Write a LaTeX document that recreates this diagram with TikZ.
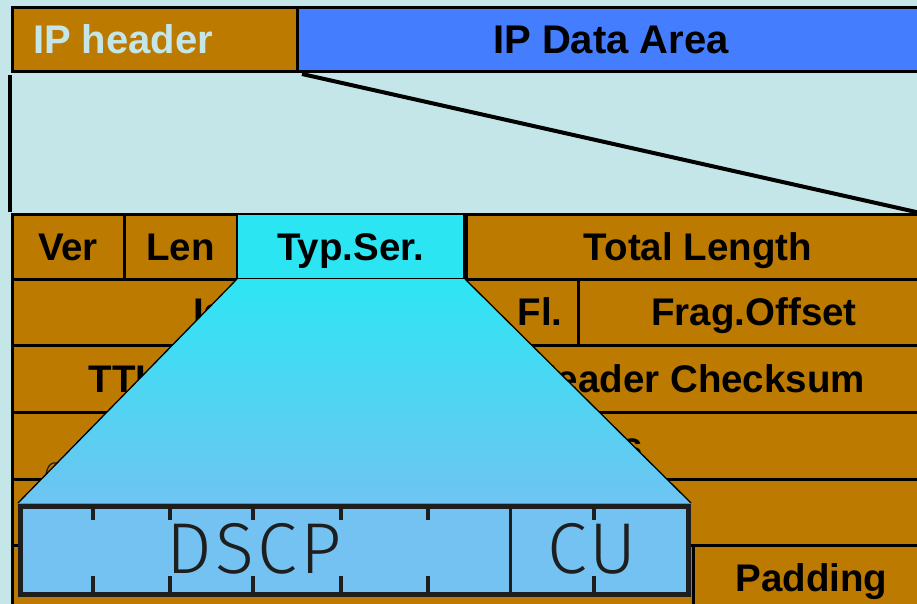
\documentclass[tikz,border=0pt]{standalone}
\usepackage{fontspec}
\setmainfont{Liberation Sans}
\newfontfamily\thinfont{Fira Sans}[UprightFont=* Light, LetterSpace=5]
\definecolor{bgcyan}{HTML}{C4E6E8}
\definecolor{hdrbrown}{HTML}{BC7A00}
\definecolor{datablue}{HTML}{447EFE}
\definecolor{toscyan}{HTML}{2BE6F2}
\definecolor{fantop}{HTML}{2EE6F3}
\definecolor{fanbot}{HTML}{6EC4F2}
\definecolor{bitsfill}{HTML}{74C2F2}
\definecolor{inkgray}{HTML}{1E1E1E}

\tikzset{
  boldlabel/.style={font=\fontsize{38.5}{46}\bfseries\selectfont, text=black,
    inner sep=0pt, outer sep=0pt},
  cell/.style={draw=black, line width=3pt, fill=hdrbrown, anchor=north west,
    inner sep=0pt, outer sep=0pt, text height=27.6pt, text depth=0pt,
    font=\fontsize{38.5}{46}\bfseries\selectfont},
  barcell/.style={draw=black, line width=3pt, anchor=north west,
    inner sep=0pt, outer sep=0pt, minimum height=64pt},
  zoomline/.style={draw=black, line width=4pt},
  fanedge/.style={draw=black, line width=1.3pt},
  bittick/.style={draw=inkgray, line width=4pt},
  bitdivider/.style={draw=inkgray, line width=3pt},
  bitlabel/.style={font=\fontsize{72}{80}\thinfont\selectfont, text=inkgray,
    inner sep=0pt, outer sep=0pt, anchor=base},
}

\begin{document}
\begin{tikzpicture}[x=1pt, y=-1pt]
  \useasboundingbox (0,0) rectangle (917,604);
  \fill[bgcyan] (0,0) rectangle (917,604);
  \clip (0,0) rectangle (917,604);

  % packet bar: header + payload
  \node[barcell, fill=hdrbrown, minimum width=285pt] (hdr) at (12,8) {};
  \node[barcell, fill=datablue, minimum width=633pt] (data) at (297,8) {};
  \node[boldlabel, font=\fontsize{40}{48}\bfseries\selectfont, text=bgcyan, anchor=base west]
    (hdrtext) at (33,54) {IP header};
  \node[boldlabel, font=\fontsize{40}{48}\bfseries\selectfont, anchor=base]
    (datatext) at (611,54) {IP Data Area};

  % header fields, row by row
  \node[cell, minimum width=112pt, minimum height=65pt] (ver) at (12,214) {Ver};
  \node[cell, minimum width=113pt, minimum height=65pt] (len) at (124,214) {Len};
  \node[cell, minimum width=464pt, minimum height=65pt] (tot) at (466,214) {Total Length};

  \node[cell, minimum width=452pt, minimum height=66pt] (ident) at (12,279) {};
  \node[cell, minimum width=114pt, minimum height=66pt] (flags) at (464,279) {};
  \node[cell, minimum width=352pt, minimum height=66pt] (frag) at (578,279) {Frag.Offset};
  \node[boldlabel, anchor=base west] (identtext) at (193,325.8) {Identification};
  \node[boldlabel, anchor=base] (flagstext) at (540,325.8) {Fl.};

  \node[cell, minimum width=224pt, minimum height=67pt] (ttl) at (12,345) {TTL};
  \node[cell, minimum width=228pt, minimum height=67pt] (proto) at (236,345) {};
  \node[cell, minimum width=466pt, minimum height=67pt] (csum) at (464,345) {Header Checksum};

  \node[cell, minimum width=918pt, minimum height=67pt] (src) at (12,412) {};
  \node[boldlabel, anchor=base east] (srctext) at (643,459) {Source Address};
  \draw[inkgray, line width=1.3pt] (46,478) .. controls (46,464) and (54,459) .. (61,466);

  \node[cell, minimum width=918pt, minimum height=66pt] (dst) at (12,479) {};

  \node[cell, minimum width=681pt, minimum height=66pt] (opt) at (12,545) {};
  \node[cell, minimum width=237pt, minimum height=66pt] (pad) at (693,545) {Padding};

  \node[cell, fill=toscyan, line width=2pt, minimum width=227pt, minimum height=65pt]
    (typ) at (237,214) {Typ.Ser.};

  % zoom from the header to the field table
  \coordinate (zl0) at (10,75);
  \coordinate (zl1) at (10,212);
  \coordinate (zr0) at (302,74);
  \coordinate (zr1) at (925,214);
  \draw[zoomline] (zl0) -- (zl1);
  \draw[zoomline] (zr0) -- (zr1);

  % bits of the type-of-service byte
  \node[draw=inkgray, line width=5pt, fill=bitsfill, anchor=north west,
    inner sep=0pt, outer sep=0pt, minimum width=668pt, minimum height=88.5pt]
    (bits) at (20.5,506) {};

  % fan from the field to its bits
  \coordinate (fa) at (237,279);
  \coordinate (fb) at (465,279);
  \coordinate (fc) at (691,503);
  \coordinate (fd) at (18,503);
  \shade[top color=fantop, bottom color=fanbot] (fa) -- (fb) -- (fc) -- (fd) -- cycle;
  \draw[fanedge] (fa) -- (fd);
  \draw[fanedge] (fb) -- (fc);

  \foreach \bx in {93,170,253,341,428,594} {
    \draw[bittick] (\bx,508) -- (\bx,520);
    \draw[bittick] (\bx,576) -- (\bx,592);
  }
  \draw[bitdivider] (510,508) -- (510,592);
  \node[bitlabel] (dscp) at (254,573) {DSCP};
  \node[bitlabel] (cu) at (592,573) {CU};
\end{tikzpicture}
\end{document}
